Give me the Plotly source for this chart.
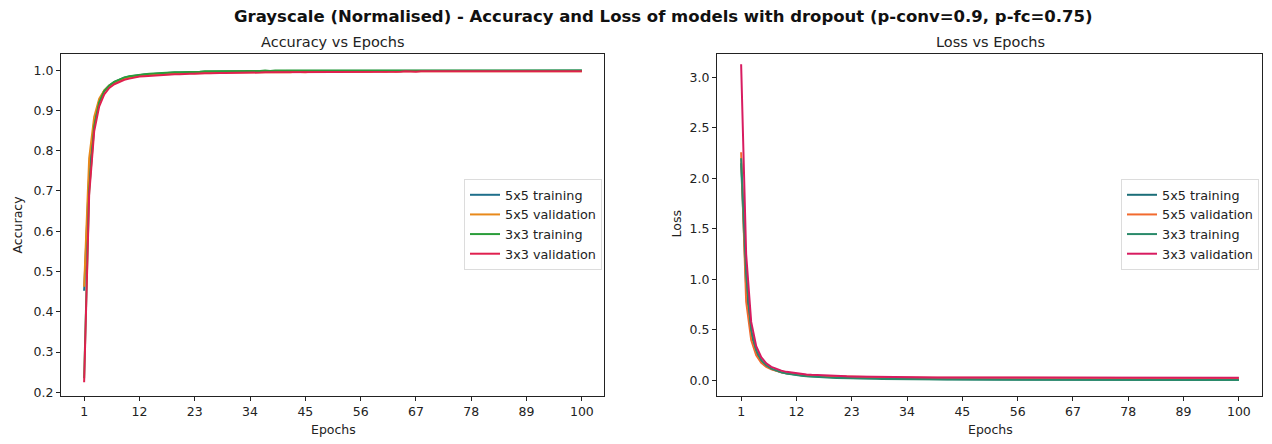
import plotly.graph_objects as go

epochs = list(range(1, 101))
x_tick_vals = [1, 12, 23, 34, 45, 56, 67, 78, 89, 100]
acc_tick_vals = [0.2, 0.3, 0.4, 0.5, 0.6, 0.7, 0.8, 0.9, 1.0]
loss_tick_vals = [0.0, 0.5, 1.0, 1.5, 2.0, 2.5, 3.0]
series_names = ["5x5 training", "5x5 validation", "3x3 training", "3x3 validation"]

acc_5x5_train = [
    0.452, 0.741, 0.872, 0.924, 0.949, 0.962, 0.971, 0.977, 0.981, 0.984,
    0.986, 0.988, 0.989, 0.990, 0.991, 0.992, 0.993, 0.993, 0.994, 0.994,
    0.995, 0.995, 0.995, 0.996, 0.996, 0.996, 0.996, 0.997, 0.997, 0.997,
    0.997, 0.997, 0.997, 0.998, 0.997, 0.998, 0.998, 0.998, 0.998, 0.998,
    0.998, 0.998, 0.998, 0.998, 0.999, 0.998, 0.998, 0.999, 0.999, 0.998,
    0.999, 0.999, 0.999, 0.998, 0.999, 0.999, 0.999, 0.999, 0.999, 0.999,
    0.999, 0.999, 0.999, 0.999, 0.999, 0.999, 0.999, 0.999, 0.999, 0.999,
    0.999, 0.998, 0.999, 0.999, 0.999, 0.999, 0.999, 0.999, 0.999, 0.999,
    0.999, 0.999, 0.999, 0.999, 0.999, 0.999, 0.999, 0.999, 0.999, 0.999,
    0.999, 0.999, 0.999, 0.999, 0.999, 0.999, 0.999, 0.999, 0.999, 0.999,
]
acc_5x5_val = [
    0.462, 0.781, 0.884, 0.929, 0.950, 0.962, 0.969, 0.975, 0.979, 0.982,
    0.984, 0.985, 0.987, 0.988, 0.988, 0.989, 0.990, 0.990, 0.991, 0.991,
    0.992, 0.992, 0.992, 0.993, 0.993, 0.993, 0.993, 0.994, 0.994, 0.994,
    0.994, 0.994, 0.995, 0.994, 0.995, 0.995, 0.995, 0.995, 0.995, 0.995,
    0.995, 0.995, 0.996, 0.995, 0.995, 0.996, 0.996, 0.995, 0.996, 0.996,
    0.996, 0.996, 0.996, 0.996, 0.996, 0.996, 0.996, 0.996, 0.997, 0.996,
    0.996, 0.997, 0.996, 0.997, 0.997, 0.996, 0.997, 0.997, 0.997, 0.997,
    0.997, 0.997, 0.997, 0.996, 0.997, 0.997, 0.997, 0.997, 0.997, 0.997,
    0.997, 0.997, 0.997, 0.997, 0.997, 0.997, 0.997, 0.997, 0.997, 0.997,
    0.997, 0.997, 0.997, 0.997, 0.997, 0.997, 0.997, 0.997, 0.997, 0.997,
]
acc_3x3_train = [
    0.235, 0.700, 0.860, 0.920, 0.948, 0.962, 0.971, 0.977, 0.982, 0.985,
    0.987, 0.989, 0.990, 0.991, 0.992, 0.993, 0.993, 0.994, 0.995, 0.995,
    0.995, 0.996, 0.996, 0.996, 0.997, 0.997, 0.997, 0.997, 0.998, 0.998,
    0.998, 0.998, 0.998, 0.998, 0.998, 0.998, 0.999, 0.998, 0.999, 0.999,
    0.999, 0.999, 0.999, 0.999, 0.999, 0.999, 0.999, 0.999, 0.999, 0.999,
    0.999, 0.999, 0.999, 0.999, 0.999, 0.999, 0.999, 0.999, 0.999, 0.999,
    0.999, 0.999, 0.999, 0.999, 0.999, 0.999, 0.999, 0.999, 0.999, 0.999,
    0.999, 0.999, 0.999, 0.999, 0.999, 0.999, 0.999, 0.999, 0.999, 0.999,
    0.999, 0.999, 0.999, 0.999, 0.999, 0.999, 0.999, 0.999, 0.999, 0.999,
    0.999, 0.999, 0.999, 0.999, 0.999, 0.999, 0.999, 0.999, 0.999, 0.999,
]
acc_3x3_val = [
    0.225, 0.690, 0.848, 0.910, 0.940, 0.956, 0.965, 0.971, 0.976, 0.979,
    0.982, 0.984, 0.985, 0.986, 0.987, 0.988, 0.988, 0.989, 0.990, 0.990,
    0.991, 0.991, 0.991, 0.992, 0.992, 0.992, 0.993, 0.993, 0.993, 0.993,
    0.994, 0.994, 0.994, 0.994, 0.994, 0.994, 0.995, 0.995, 0.995, 0.995,
    0.995, 0.995, 0.995, 0.995, 0.996, 0.995, 0.996, 0.996, 0.996, 0.996,
    0.996, 0.996, 0.996, 0.996, 0.996, 0.996, 0.996, 0.996, 0.996, 0.996,
    0.996, 0.996, 0.996, 0.996, 0.997, 0.996, 0.996, 0.997, 0.997, 0.996,
    0.997, 0.997, 0.997, 0.997, 0.997, 0.997, 0.997, 0.997, 0.997, 0.997,
    0.997, 0.997, 0.997, 0.997, 0.997, 0.997, 0.997, 0.997, 0.997, 0.997,
    0.997, 0.997, 0.997, 0.997, 0.997, 0.997, 0.997, 0.997, 0.997, 0.997,
]

loss_5x5_train = [
    2.15, 0.92, 0.46, 0.28, 0.19, 0.145, 0.115, 0.095, 0.080, 0.070,
    0.062, 0.055, 0.050, 0.045, 0.041, 0.038, 0.035, 0.033, 0.031, 0.029,
    0.027, 0.026, 0.024, 0.023, 0.022, 0.021, 0.020, 0.019, 0.018, 0.018,
    0.017, 0.016, 0.016, 0.015, 0.015, 0.014, 0.014, 0.013, 0.013, 0.013,
    0.012, 0.012, 0.012, 0.011, 0.011, 0.011, 0.011, 0.010, 0.010, 0.010,
    0.010, 0.010, 0.009, 0.009, 0.009, 0.009, 0.009, 0.009, 0.008, 0.008,
    0.008, 0.008, 0.008, 0.008, 0.008, 0.008, 0.007, 0.007, 0.007, 0.007,
    0.007, 0.007, 0.007, 0.007, 0.007, 0.007, 0.007, 0.006, 0.006, 0.006,
    0.006, 0.006, 0.006, 0.006, 0.006, 0.006, 0.006, 0.006, 0.006, 0.006,
    0.006, 0.006, 0.005, 0.005, 0.005, 0.005, 0.005, 0.005, 0.005, 0.005,
]
loss_5x5_val = [
    2.26, 0.78, 0.40, 0.25, 0.175, 0.135, 0.110, 0.093, 0.081, 0.072,
    0.066, 0.060, 0.056, 0.052, 0.049, 0.046, 0.044, 0.042, 0.040, 0.039,
    0.037, 0.036, 0.035, 0.034, 0.033, 0.033, 0.032, 0.031, 0.031, 0.030,
    0.030, 0.029, 0.029, 0.029, 0.028, 0.028, 0.028, 0.027, 0.027, 0.027,
    0.027, 0.026, 0.026, 0.026, 0.026, 0.026, 0.025, 0.025, 0.025, 0.025,
    0.025, 0.025, 0.025, 0.024, 0.024, 0.024, 0.024, 0.024, 0.024, 0.024,
    0.024, 0.024, 0.024, 0.023, 0.023, 0.023, 0.023, 0.023, 0.023, 0.023,
    0.023, 0.023, 0.023, 0.023, 0.023, 0.023, 0.023, 0.023, 0.023, 0.023,
    0.023, 0.023, 0.023, 0.023, 0.023, 0.023, 0.023, 0.023, 0.023, 0.023,
    0.023, 0.023, 0.023, 0.023, 0.023, 0.023, 0.023, 0.023, 0.023, 0.023,
]
loss_3x3_train = [
    2.20, 1.05, 0.50, 0.30, 0.20, 0.150, 0.117, 0.095, 0.080, 0.068,
    0.059, 0.052, 0.046, 0.041, 0.037, 0.034, 0.031, 0.029, 0.027, 0.025,
    0.023, 0.022, 0.021, 0.019, 0.018, 0.017, 0.016, 0.016, 0.015, 0.014,
    0.014, 0.013, 0.013, 0.012, 0.012, 0.011, 0.011, 0.011, 0.010, 0.010,
    0.010, 0.009, 0.009, 0.009, 0.009, 0.008, 0.008, 0.008, 0.008, 0.008,
    0.007, 0.007, 0.007, 0.007, 0.007, 0.007, 0.007, 0.006, 0.006, 0.006,
    0.006, 0.006, 0.006, 0.006, 0.006, 0.005, 0.005, 0.005, 0.005, 0.005,
    0.005, 0.005, 0.005, 0.005, 0.005, 0.005, 0.005, 0.004, 0.004, 0.004,
    0.004, 0.004, 0.004, 0.004, 0.004, 0.004, 0.004, 0.004, 0.004, 0.004,
    0.004, 0.004, 0.004, 0.004, 0.004, 0.004, 0.004, 0.004, 0.004, 0.004,
]
loss_3x3_val = [
    3.13, 1.25, 0.58, 0.34, 0.23, 0.17, 0.135, 0.112, 0.097, 0.085,
    0.077, 0.070, 0.064, 0.060, 0.056, 0.053, 0.050, 0.048, 0.046, 0.044,
    0.043, 0.041, 0.040, 0.039, 0.038, 0.037, 0.036, 0.036, 0.035, 0.034,
    0.034, 0.033, 0.033, 0.032, 0.032, 0.032, 0.031, 0.031, 0.031, 0.030,
    0.030, 0.030, 0.030, 0.029, 0.029, 0.029, 0.029, 0.029, 0.028, 0.028,
    0.028, 0.028, 0.028, 0.028, 0.028, 0.027, 0.027, 0.027, 0.027, 0.027,
    0.027, 0.027, 0.027, 0.027, 0.027, 0.027, 0.026, 0.026, 0.026, 0.026,
    0.026, 0.026, 0.026, 0.026, 0.026, 0.026, 0.026, 0.026, 0.026, 0.026,
    0.026, 0.026, 0.026, 0.026, 0.026, 0.026, 0.026, 0.026, 0.026, 0.026,
    0.026, 0.026, 0.026, 0.026, 0.026, 0.026, 0.026, 0.026, 0.026, 0.026,
]

acc_series = [acc_5x5_train, acc_5x5_val, acc_3x3_train, acc_3x3_val]
loss_series = [loss_5x5_train, loss_5x5_val, loss_3x3_train, loss_3x3_val]
acc_colors = ["#1f6f8b", "#e8891a", "#2a9d3a", "#e0204f"]
loss_colors = ["#1b6e78", "#f26a2e", "#2a8a6a", "#d81b60"]

W, H = 1272, 444
FONT = "DejaVu Sans"
TICK_SIZE = 12.5
LEG_SIZE = 12.8

fig = go.Figure()
for name, ys, c in zip(series_names, acc_series, acc_colors):
    fig.add_trace(go.Scatter(x=epochs, y=ys, mode="lines", name=name,
                             line=dict(color=c, width=2), xaxis="x", yaxis="y",
                             legend="legend"))
for name, ys, c in zip(series_names, loss_series, loss_colors):
    fig.add_trace(go.Scatter(x=epochs, y=ys, mode="lines", name=name,
                             line=dict(color=c, width=2), xaxis="x2", yaxis="y2",
                             legend="legend2"))

def px_x(p):
    return p / W

def px_y(p):
    return 1 - p / H

box_top, box_bot = 54, 399
axis_common = dict(showline=True, linecolor="#222", linewidth=1, mirror=True,
                   ticks="outside", ticklen=4, tickcolor="#222", showgrid=False,
                   zeroline=False, tickfont=dict(family=FONT, size=TICK_SIZE, color="#222"))

legend_common = dict(xanchor="right", yanchor="middle",
                     bgcolor="rgba(255,255,255,0.8)", bordercolor="#dcdcdc", borderwidth=1,
                     font=dict(family=FONT, size=LEG_SIZE, color="#222"), tracegroupgap=0)

fig.update_layout(
    width=W, height=H, autosize=False,
    margin=dict(l=0, r=0, t=0, b=0),
    paper_bgcolor="white", plot_bgcolor="white",
    font=dict(family=FONT, size=TICK_SIZE, color="#222"),
    xaxis=dict(domain=[px_x(61), px_x(604)], range=[-3.6, 104.4],
               tickvals=x_tick_vals, anchor="y", **axis_common),
    yaxis=dict(domain=[px_y(box_bot), px_y(box_top)], range=[0.19, 1.041],
               tickvals=acc_tick_vals, ticktext=[f"{v:.1f}" for v in acc_tick_vals],
               anchor="x", **axis_common),
    xaxis2=dict(domain=[px_x(717), px_x(1262)], range=[-3.8, 104.6],
                tickvals=x_tick_vals, anchor="y2", **axis_common),
    yaxis2=dict(domain=[px_y(box_bot), px_y(box_top)], range=[-0.157, 3.236],
                tickvals=loss_tick_vals, ticktext=[f"{v:.1f}" for v in loss_tick_vals],
                anchor="x2", **axis_common),
    legend=dict(x=px_x(602), y=px_y(226), **legend_common),
    legend2=dict(x=px_x(1259), y=px_y(226), **legend_common),
    showlegend=True,
)

annotations = [
    dict(text="<b>Grayscale (Normalised) - Accuracy and Loss of models with dropout (p-conv=0.9, p-fc=0.75)</b>",
         x=px_x(663), y=px_y(17), xref="paper", yref="paper", showarrow=False,
         font=dict(family=FONT, size=16.5, color="#111"), xanchor="center", yanchor="middle"),
    dict(text="Accuracy vs Epochs", x=px_x(333), y=px_y(42), xref="paper", yref="paper",
         showarrow=False, font=dict(family=FONT, size=14.5, color="#222"),
         xanchor="center", yanchor="middle"),
    dict(text="Loss vs Epochs", x=px_x(990), y=px_y(42), xref="paper", yref="paper",
         showarrow=False, font=dict(family=FONT, size=14.5, color="#222"),
         xanchor="center", yanchor="middle"),
    dict(text="Epochs", x=px_x(333), y=px_y(432), xref="paper", yref="paper",
         showarrow=False, font=dict(family=FONT, size=TICK_SIZE, color="#222"),
         xanchor="center", yanchor="middle"),
    dict(text="Epochs", x=px_x(990), y=px_y(432), xref="paper", yref="paper",
         showarrow=False, font=dict(family=FONT, size=TICK_SIZE, color="#222"),
         xanchor="center", yanchor="middle"),
    dict(text="Accuracy", x=px_x(17), y=px_y(226), xref="paper", yref="paper",
         showarrow=False, textangle=-90, font=dict(family=FONT, size=TICK_SIZE, color="#222"),
         xanchor="center", yanchor="middle"),
    dict(text="Loss", x=px_x(676), y=px_y(226), xref="paper", yref="paper",
         showarrow=False, textangle=-90, font=dict(family=FONT, size=TICK_SIZE, color="#222"),
         xanchor="center", yanchor="middle"),
]
fig.update_layout(annotations=annotations)

fig.write_html("out.html")
